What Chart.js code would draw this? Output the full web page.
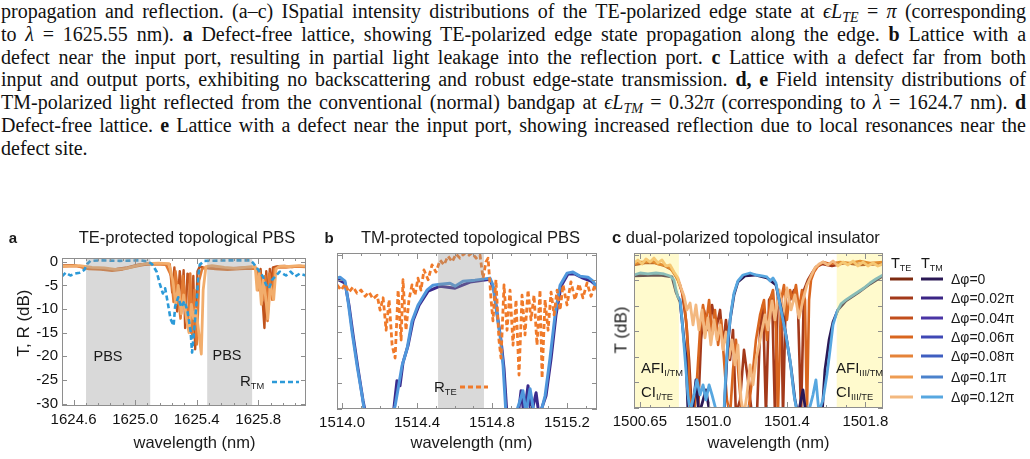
<!DOCTYPE html>
<html><head><meta charset="utf-8">
<script src="https://cdn.jsdelivr.net/npm/chart.js@4.4.1/dist/chart.umd.min.js"></script>
<style>
html,body{margin:0;padding:0;background:#fff;width:1030px;height:459px;overflow:hidden;position:relative}
#cap{position:absolute;left:1px;top:0px;width:1025px;font-family:'Liberation Serif','Times New Roman',serif;font-size:20px;line-height:22.8px;color:#111}
#cap .ln{text-align:justify;text-align-last:justify;white-space:nowrap}
#cap .last{text-align-last:left}
#cap sub{font-size:0.7em;vertical-align:-0.25em;line-height:0}
.t{position:absolute;font-family:'Liberation Sans',Arial,sans-serif;color:#1a1a1a;white-space:nowrap;line-height:1}
.t sub{font-size:0.62em;vertical-align:-0.35em;line-height:0}
canvas{position:absolute;top:245px}
</style></head><body>
<div id="cap">
<div class="ln">propagation and reflection. (a–c) ISpatial intensity distributions of the TE-polarized edge state at <i>ϵL<sub>TE</sub></i> = <i>π</i> (corresponding</div>
<div class="ln">to <i>λ</i> = 1625.55 nm). <b>a</b> Defect-free lattice, showing TE-polarized edge state propagation along the edge. <b>b</b> Lattice with a</div>
<div class="ln">defect near the input port, resulting in partial light leakage into the reflection port. <b>c</b> Lattice with a defect far from both</div>
<div class="ln">input and output ports, exhibiting no backscattering and robust edge-state transmission. <b>d, e</b> Field intensity distributions of</div>
<div class="ln">TM-polarized light reflected from the conventional (normal) bandgap at <i>ϵL<sub>TM</sub></i> = 0.32<i>π</i> (corresponding to <i>λ</i> = 1624.7 nm). <b>d</b></div>
<div class="ln">Defect-free lattice. <b>e</b> Lattice with a defect near the input port, showing increased reflection due to local resonances near the</div>
<div class="ln last">defect site.</div>
</div>
<canvas id="ca" width="320" height="214" style="left:0px"></canvas>
<canvas id="cb" width="300" height="214" style="left:310px"></canvas>
<canvas id="cc" width="430" height="214" style="left:600px"></canvas>
<script>
// ---------------- DATA ----------------
// Panel a: TE-protected topological PBS
const aXTicks = [1624.6, 1625.0, 1625.4, 1625.8];
const aXLabels = ['1624.6', '1625.0', '1625.4', '1625.8'];
const aYTicks = [0, -5, -10, -15, -20, -25, -30];
const aYLabels = ['0', '-5', '-10', '-15', '-20', '-25', '-30'];
const aBands = [[1624.681, 1625.098], [1625.468, 1625.760]];
const aTE1X = [1624.525,1624.60,1624.68,1624.75,1624.82,1624.88,1624.95,1625.02,1625.08,1625.14,1625.225,1625.241,1625.255,1625.273,1625.29,1625.306,1625.315,1625.325,1625.34,1625.352,1625.364,1625.378,1625.39,1625.405,1625.42,1625.45,1625.50,1625.58,1625.66,1625.74,1625.785,1625.80,1625.815,1625.84,1625.852,1625.865,1625.875,1625.885,1625.895,1625.92,1625.97,1626.02,1626.07,1626.11];
const aTE1Y = [-0.8,-0.7,-1.3,-1.4,-1.7,-1.5,-1.2,-0.6,-0.4,-0.4,-0.5,-6.5,-1.2,-10.5,-2.0,-8.0,-1.8,-14.0,-2.5,-3.0,-15.0,-3.0,-18.5,-2.0,-1.0,-1.3,-1.4,-1.5,-1.3,-1.2,-1.3,-3.5,-1.5,-14.0,-2.0,-10.0,-1.5,-6.0,-1.2,-1.0,-0.9,-1.1,-0.9,-1.0];
const aTE2X = [1624.525,1624.62,1624.70,1624.78,1624.85,1624.92,1625.00,1625.06,1625.12,1625.20,1625.235,1625.25,1625.262,1625.28,1625.295,1625.31,1625.33,1625.345,1625.358,1625.372,1625.385,1625.40,1625.415,1625.435,1625.46,1625.52,1625.60,1625.68,1625.75,1625.79,1625.80,1625.81,1625.83,1625.845,1625.86,1625.872,1625.89,1625.905,1625.93,1625.98,1626.04,1626.11];
const aTE2Y = [-1.0,-0.9,-1.5,-1.6,-1.9,-1.6,-1.0,-0.6,-0.5,-0.6,-3.0,-8.5,-2.0,-7.0,-12.0,-3.0,-9.5,-13.0,-2.5,-16.0,-6.0,-17.5,-4.0,-1.5,-1.2,-1.5,-1.7,-1.5,-1.4,-1.5,-6.0,-2.0,-8.0,-3.0,-12.5,-2.5,-8.0,-1.5,-1.2,-1.2,-1.0,-1.1];
const aTE3X = [1624.525,1624.64,1624.72,1624.80,1624.87,1624.94,1625.01,1625.07,1625.15,1625.22,1625.245,1625.265,1625.28,1625.30,1625.315,1625.335,1625.35,1625.365,1625.38,1625.395,1625.41,1625.43,1625.442,1625.46,1625.50,1625.58,1625.66,1625.74,1625.78,1625.792,1625.805,1625.82,1625.832,1625.848,1625.862,1625.878,1625.90,1625.915,1625.94,1626.00,1626.06,1626.11];
const aTE3Y = [-0.9,-0.8,-1.2,-1.3,-1.6,-1.4,-0.8,-0.4,-0.3,-0.4,-4.0,-9.0,-5.0,-11.0,-7.0,-12.5,-15.0,-9.0,-12.0,-10.0,-14.0,-19.5,-6.0,-1.0,-0.8,-1.2,-1.4,-1.1,-1.0,-6.0,-2.5,-9.0,-4.0,-7.5,-12.0,-5.0,-8.0,-1.5,-0.9,-1.0,-0.8,-0.9];
const aRX = [1624.525,1624.55,1624.58,1624.61,1624.64,1624.67,1624.69,1624.71,1624.77,1624.90,1625.03,1625.08,1625.11,1625.14,1625.16,1625.18,1625.195,1625.21,1625.23,1625.25,1625.26,1625.28,1625.30,1625.32,1625.34,1625.36,1625.37,1625.38,1625.40,1625.41,1625.42,1625.45,1625.62,1625.75,1625.77,1625.80,1625.83,1625.85,1625.87,1625.89,1625.91,1625.94,1625.98,1626.01,1626.04,1626.07,1626.11];
const aRY = [-3.1,-2.3,-2.9,-2.5,-2.3,-1.7,-0.4,0.2,0.3,0.2,0.3,0.1,-0.5,-2.1,-4.6,-6.7,-5.6,-8.3,-12.1,-13.5,-9.4,-7.5,-9.6,-8.3,-10.4,-14.6,-19.2,-15.6,-8.3,-3.1,-0.6,0.2,0.3,0.3,-0.4,-1.7,-3.1,-4.8,-5.6,-3.8,-3.1,-2.1,-2.9,-2.1,-3.1,-2.5,-2.9];

// Panel b: TM-protected topological PBS
const bXTicks = [1514.0, 1514.4, 1514.8, 1515.2];
const bXLabels = ['1514.0', '1514.4', '1514.8', '1515.2'];
const bYTicks = [0, -5, -10, -15, -20, -25, -30];
const bBands = [[1514.512, 1514.757]];
const bTM1X = [1513.973,1514.016,1514.037,1514.059,1514.085,1514.112,1514.128,1514.272,1514.293,1514.309,1514.325,1514.352,1514.379,1514.411,1514.459,1514.523,1514.603,1514.683,1514.789,1514.811,1514.832,1514.848,1514.864,1514.880,1514.939,1514.955,1514.971,1514.992,1515.008,1515.035,1515.051,1515.088,1515.115,1515.141,1515.168,1515.205,1515.243,1515.285,1515.328,1515.360];
const bTM1Y = [-4.78,-5.56,-9.86,-15.71,-22.16,-28.41,-31.34,-31.34,-24.50,-25.48,-20.99,-17.67,-12.79,-9.86,-7.12,-6.14,-6.54,-5.36,-4.78,-6.93,-12.79,-16.69,-22.16,-31.34,-31.34,-26.46,-31.34,-25.48,-31.34,-26.85,-31.34,-27.43,-20.21,-11.81,-6.14,-3.80,-3.80,-4.58,-5.17,-6.14];
const bTM2X = [1513.973,1513.989,1514.016,1514.032,1514.053,1514.080,1514.107,1514.123,1514.267,1514.283,1514.299,1514.320,1514.347,1514.373,1514.405,1514.453,1514.485,1514.523,1514.576,1514.603,1514.645,1514.709,1514.789,1514.805,1514.827,1514.843,1514.859,1514.875,1514.923,1514.949,1514.965,1514.981,1515.003,1515.024,1515.056,1515.083,1515.109,1515.136,1515.163,1515.200,1515.232,1515.269,1515.312,1515.339,1515.360];
const bTM2Y = [-4.58,-4.39,-5.17,-9.07,-14.94,-21.57,-27.43,-31.34,-31.34,-29.39,-26.07,-21.57,-18.25,-12.98,-9.86,-6.93,-5.95,-5.75,-5.56,-6.14,-5.17,-4.97,-4.58,-5.95,-11.81,-15.71,-21.57,-31.34,-31.34,-28.41,-26.46,-30.75,-26.07,-30.75,-31.34,-27.43,-20.21,-11.81,-5.95,-3.61,-3.41,-4.19,-4.39,-5.17,-6.54];
const bRX = [1513.973,1513.995,1514.016,1514.037,1514.059,1514.080,1514.101,1514.123,1514.144,1514.165,1514.187,1514.203,1514.219,1514.235,1514.251,1514.267,1514.283,1514.299,1514.315,1514.325,1514.341,1514.357,1514.373,1514.389,1514.405,1514.421,1514.437,1514.459,1514.480,1514.501,1514.523,1514.544,1514.565,1514.587,1514.608,1514.629,1514.651,1514.672,1514.693,1514.715,1514.736,1514.752,1514.768,1514.779,1514.795,1514.805,1514.821,1514.837,1514.848,1514.864,1514.880,1514.896,1514.912,1514.928,1514.944,1514.960,1514.976,1514.992,1515.008,1515.024,1515.040,1515.056,1515.067,1515.083,1515.099,1515.115,1515.131,1515.147,1515.163,1515.179,1515.200,1515.221,1515.243,1515.264,1515.285,1515.307,1515.328,1515.349,1515.360];
const bRY = [-5.9,-6.9,-5.7,-7.3,-6.3,-7.5,-6.9,-8.1,-7.3,-8.6,-7.9,-10.8,-8.4,-14.7,-8.8,-17.6,-20.1,-6.9,-16.6,-4.9,-14.7,-8.8,-5.9,-7.9,-4.6,-6.9,-3.0,-4.9,-2.0,-3.4,-1.1,-2.0,-0.3,-1.4,0.1,-0.7,0.2,-0.3,0.3,-0.7,-0.1,-4.6,-1.4,-0.7,-8.8,-12.9,-4.9,-16.6,-20.1,-5.9,-14.7,-6.9,-17.6,-8.8,-23.4,-7.9,-15.6,-6.9,-12.7,-7.9,-17.6,-6.9,-24.0,-8.8,-14.7,-7.3,-11.7,-6.9,-10.8,-5.9,-9.8,-5.3,-8.8,-5.7,-8.4,-5.5,-8.1,-5.9,-6.9];

// Panel c: dual-polarized topological insulator
const cXTicks = [1500.65, 1501.0, 1501.4, 1501.8];
const cXLabels = ['1500.65', '1501.0', '1501.4', '1501.8'];
const cYTicks = [0, -5, -10, -15, -20, -25, -30];
const cBands = [[1500.620, 1500.849], [1501.654, 1501.890]];
const cPhaseLabels = ['Δφ=0', 'Δφ=0.02π', 'Δφ=0.04π', 'Δφ=0.06π', 'Δφ=0.08π', 'Δφ=0.1π', 'Δφ=0.12π'];
const cTEColors = ['#7d2a10', '#a3391a', '#c24e1c', '#d9661f', '#e58339', '#ee9c52', '#f3b87f'];
const cTMColors = ['#2a1855', '#3b2585', '#4a35a5', '#3f48b5', '#3f5ec0', '#4b82cc', '#57a7e0'];
const cTE1X = [1500.620,1500.676,1500.727,1500.778,1500.814,1500.844,1500.865,1500.885,1500.901,1500.916,1500.946,1500.962,1500.977,1500.997,1501.018,1501.038,1501.059,1501.074,1501.089,1501.110,1501.125,1501.140,1501.161,1501.181,1501.201,1501.222,1501.247,1501.263,1501.278,1501.293,1501.309,1501.324,1501.339,1501.354,1501.370,1501.380,1501.395,1501.416,1501.436,1501.456,1501.472,1501.487,1501.507,1501.528,1501.548,1501.579,1501.630,1501.696,1501.773,1501.890];
const cTE1Y = [-2.04,-1.65,-1.65,-2.24,-3.02,-4.97,-7.32,-12.79,-20.60,-31.34,-31.34,-16.69,-10.83,-14.74,-9.86,-14.74,-10.83,-17.67,-12.79,-20.60,-14.74,-31.34,-28.41,-18.64,-24.50,-31.34,-31.34,-14.74,-9.86,-31.34,-8.88,-7.90,-31.34,-6.93,-8.88,-31.34,-6.93,-8.88,-6.93,-9.86,-31.34,-6.93,-4.97,-3.61,-2.43,-1.85,-2.24,-1.65,-2.04,-1.85];
const cTE2X = [1500.620,1500.651,1500.681,1500.712,1500.742,1500.773,1500.804,1500.834,1500.855,1500.875,1500.890,1500.901,1500.911,1500.926,1500.941,1500.957,1500.972,1500.987,1501.003,1501.018,1501.033,1501.049,1501.064,1501.079,1501.094,1501.110,1501.125,1501.140,1501.155,1501.171,1501.201,1501.222,1501.242,1501.263,1501.283,1501.298,1501.314,1501.329,1501.344,1501.354,1501.370,1501.385,1501.400,1501.416,1501.431,1501.446,1501.462,1501.477,1501.492,1501.502,1501.513,1501.523,1501.538,1501.558,1501.584,1501.620,1501.671,1501.722,1501.773,1501.824,1501.890];
const cTE2Y = [-1.85,-1.46,-1.46,-1.26,-1.85,-2.04,-2.63,-4.19,-5.95,-8.88,-14.74,-24.50,-31.34,-31.34,-24.50,-14.74,-9.86,-13.76,-8.88,-15.71,-10.83,-17.67,-12.79,-20.60,-28.41,-31.34,-22.55,-16.69,-24.50,-31.34,-31.34,-24.50,-16.69,-11.81,-8.88,-16.69,-8.88,-6.93,-14.74,-31.34,-8.88,-5.95,-12.79,-6.93,-8.88,-5.95,-10.83,-6.93,-8.88,-31.34,-8.88,-4.97,-3.41,-2.24,-1.46,-1.85,-1.46,-1.65,-1.26,-1.65,-1.46];
const cTE3X = [1500.620,1500.640,1500.661,1500.681,1500.702,1500.722,1500.742,1500.763,1500.783,1500.804,1500.824,1500.844,1500.860,1500.875,1500.890,1500.906,1500.921,1500.936,1500.951,1500.967,1500.982,1500.997,1501.012,1501.028,1501.043,1501.059,1501.074,1501.089,1501.104,1501.120,1501.135,1501.150,1501.166,1501.181,1501.196,1501.212,1501.227,1501.242,1501.258,1501.273,1501.288,1501.303,1501.324,1501.339,1501.360,1501.380,1501.400,1501.421,1501.441,1501.462,1501.482,1501.502,1501.523,1501.543,1501.564,1501.584,1501.609,1501.635,1501.660,1501.686,1501.711,1501.737,1501.762,1501.788,1501.813,1501.839,1501.864,1501.890];
const cTE3Y = [-1.65,-1.07,-1.85,-0.87,-1.46,-0.68,-1.65,-1.07,-2.24,-2.04,-3.41,-4.58,-6.54,-8.10,-10.83,-9.47,-13.76,-9.86,-14.74,-10.83,-16.30,-12.39,-17.67,-12.79,-16.69,-13.76,-18.64,-15.13,-20.21,-16.69,-21.57,-17.67,-28.41,-31.34,-27.43,-21.57,-25.48,-20.60,-17.67,-14.74,-11.81,-14.74,-9.07,-12.79,-6.93,-11.81,-6.54,-10.83,-7.90,-12.39,-8.88,-5.95,-4.19,-2.63,-1.85,-1.46,-2.04,-1.26,-2.24,-1.46,-2.04,-1.26,-2.24,-1.46,-2.24,-1.65,-2.24,-1.85];
const cTM1X = [1500.620,1500.753,1500.814,1500.834,1500.855,1500.875,1500.885,1500.895,1500.916,1500.936,1500.951,1500.987,1501.008,1501.079,1501.094,1501.110,1501.130,1501.150,1501.186,1501.237,1501.298,1501.344,1501.370,1501.395,1501.421,1501.441,1501.457,1501.482,1501.497,1501.579,1501.594,1501.615,1501.635,1501.660,1501.701,1501.762,1501.824,1501.890];
const cTM1Y = [-4.19,-4.00,-4.39,-7.32,-9.27,-16.69,-20.01,-30.36,-31.34,-24.50,-31.34,-26.46,-31.34,-31.34,-20.21,-12.79,-7.90,-5.36,-4.19,-4.00,-4.58,-5.95,-10.44,-15.71,-22.16,-28.41,-31.34,-26.46,-31.34,-31.34,-22.55,-16.69,-13.18,-10.83,-9.07,-7.51,-5.75,-4.19];
const cTM2X = [1500.620,1500.651,1500.691,1500.732,1500.773,1500.804,1500.824,1500.834,1500.844,1500.855,1500.865,1500.875,1500.885,1500.895,1500.906,1500.926,1500.941,1500.957,1500.972,1500.987,1501.003,1501.018,1501.038,1501.059,1501.079,1501.089,1501.099,1501.115,1501.130,1501.150,1501.176,1501.212,1501.242,1501.273,1501.298,1501.314,1501.329,1501.344,1501.365,1501.390,1501.416,1501.436,1501.451,1501.467,1501.507,1501.533,1501.548,1501.563,1501.584,1501.604,1501.620,1501.635,1501.655,1501.676,1501.701,1501.731,1501.762,1501.793,1501.824,1501.854,1501.890];
const cTM2Y = [-4.00,-3.61,-3.80,-3.61,-3.80,-4.19,-4.97,-6.93,-8.29,-8.88,-12.79,-17.67,-22.55,-27.43,-30.75,-27.43,-24.50,-27.43,-25.48,-28.41,-25.48,-27.43,-30.36,-31.34,-30.75,-22.55,-16.69,-11.22,-7.51,-5.17,-4.00,-3.61,-4.00,-4.19,-4.39,-5.17,-4.58,-5.56,-9.86,-14.74,-20.60,-27.43,-30.75,-31.34,-31.34,-27.43,-24.50,-30.75,-28.41,-23.53,-18.64,-13.76,-11.22,-9.66,-8.88,-8.10,-7.32,-6.54,-5.56,-4.78,-4.00];

// ---------------- STYLE / HELPERS ----------------
const FONT = "'Liberation Sans', Arial, Helvetica, sans-serif";
const TICKFONT = "'Liberation Sans Narrow', 'Arial Narrow', 'Liberation Sans', Arial, sans-serif";
Chart.defaults.font.family = FONT;
const INK = '#111';

function pts(xs, ys) {
  const n = Math.min(xs.length, ys.length), out = [];
  for (let i = 0; i < n; i++) out.push({x: xs[i], y: ys[i]});
  return out;
}
function line(xs, ys, color, w, order, dash) {
  return {data: pts(xs, ys), borderColor: color, borderWidth: w, order: order, borderDash: dash || [],
    pointRadius: 0, fill: false, tension: 0, borderJoinStyle: 'round', borderCapStyle: 'butt'};
}
function axisX(min, max, ticks, labels, h) {
  return {type: 'linear', min, max, grid: {display: false, drawTicks: false}, border: {display: false},
    afterBuildTicks: s => { s.ticks = ticks.map(v => ({value: v})); },
    ticks: {autoSkip: false, maxRotation: 0, minRotation: 0, padding: 5, color: INK,
      font: {size: 15, family: TICKFONT}, callback: (v, i) => labels[i]},
    afterFit: s => { s.height = h; }};
}
function axisY(min, max, ticks, labels, w) {
  return {type: 'linear', min, max, grid: {display: false, drawTicks: false}, border: {display: false},
    afterBuildTicks: s => { s.ticks = ticks.map(v => ({value: v})); },
    ticks: {display: !!labels, padding: 4, color: INK, font: {size: 15, family: TICKFONT},
      callback: (v, i) => labels ? labels[i] : ''},
    afterFit: s => { s.width = w; }};
}

const bandPlugin = {
  id: 'bands',
  afterDatasetsDraw(chart, args, o) {
    if (!o || !o.ranges) return;
    const {ctx, chartArea: a, scales: {x}} = chart;
    ctx.save();
    ctx.fillStyle = o.color;
    o.ranges.forEach(r => {
      const x0 = Math.max(a.left, x.getPixelForValue(r[0]));
      const x1 = Math.min(a.right, x.getPixelForValue(r[1]));
      ctx.fillRect(x0, a.top, x1 - x0, a.bottom - a.top);
    });
    ctx.restore();
  }
};
const framePlugin = {
  id: 'frame',
  afterDraw(chart, args, o) {
    const {ctx, chartArea: a, scales: {x, y}} = chart;
    ctx.save();
    ctx.strokeStyle = '#8e8e8e'; ctx.lineWidth = 1;
    ctx.strokeRect(Math.round(a.left) + 0.5, Math.round(a.top) + 0.5, Math.round(a.right - a.left) - 1, Math.round(a.bottom - a.top) - 1);
    ctx.beginPath();
    const ms = (o && o.minor) || 0.1, org = (o && o.origin) || 0;
    const i0 = Math.ceil((x.min - org) / ms - 1e-6), i1 = Math.floor((x.max - org) / ms + 1e-6);
    for (let i = i0; i <= i1; i++) {
      const px = Math.round(x.getPixelForValue(org + i * ms)) + 0.5;
      ctx.moveTo(px, a.bottom); ctx.lineTo(px, a.bottom - 3);
      ctx.moveTo(px, a.top); ctx.lineTo(px, a.top + 3);
    }
    x.ticks.forEach(t => {
      const px = Math.round(x.getPixelForValue(t.value)) + 0.5;
      ctx.moveTo(px, a.bottom); ctx.lineTo(px, a.bottom - 6);
      ctx.moveTo(px, a.top); ctx.lineTo(px, a.top + 6);
    });
    y.ticks.forEach(t => {
      const py = Math.round(y.getPixelForValue(t.value)) + 0.5;
      ctx.moveTo(a.left, py); ctx.lineTo(a.left + 5, py);
      ctx.moveTo(a.right, py); ctx.lineTo(a.right - 5, py);
    });
    ctx.stroke();
    ctx.restore();
  }
};
const samplePlugin = {
  id: 'samples',
  afterDraw(chart, args, o) {
    if (!o || !o.items) return;
    const ctx = chart.ctx, ox = chart.canvas.offsetLeft, oy = chart.canvas.offsetTop;
    ctx.save();
    o.items.forEach(it => {
      ctx.strokeStyle = it.color; ctx.lineWidth = it.w; ctx.setLineDash(it.dash || []);
      ctx.lineCap = 'butt';
      ctx.beginPath(); ctx.moveTo(it.x0 - ox, it.y - oy); ctx.lineTo(it.x1 - ox, it.y - oy); ctx.stroke();
    });
    ctx.restore();
  }
};
function baseOpts(pad, x, y, extra) {
  return {responsive: false, animation: false, events: [],
    layout: {padding: pad},
    plugins: Object.assign({legend: {display: false}, tooltip: {enabled: false}, title: {display: false}}, extra),
    scales: {x, y}};
}

// ---------------- CHART a ----------------
const aR = {color: '#2c9ad8', w: 2.6, dash: [5, 3]};
new Chart(document.getElementById('ca'), {
  type: 'line',
  data: {datasets: [
    line(aTE1X, aTE1Y, '#c0531c', 2.4, 4),
    line(aTE2X, aTE2Y, '#e27b34', 2.6, 3),
    line(aTE3X, aTE3Y, '#f2ad6c', 2.8, 2),
    line(aRX, aRY, aR.color, aR.w, 1, aR.dash)
  ]},
  options: baseOpts({left: 0, right: 14, top: 11, bottom: 0},
    axisX(1624.525, 1626.11, aXTicks, aXLabels, 53),
    axisY(-30.5, 0.8, aYTicks, aYLabels, 62),
    {bands: {ranges: aBands, color: 'rgba(150,150,150,0.36)'}, frame: {minor: 0.08, origin: 1624.6},
     samples: {items: [{x0: 272, x1: 299, y: 382, color: aR.color, w: aR.w, dash: aR.dash}]}}),
  plugins: [bandPlugin, framePlugin, samplePlugin]
});

// ---------------- CHART b ----------------
const bR = {color: '#f07a2a', w: 2.8, dash: [5, 3]};
new Chart(document.getElementById('cb'), {
  type: 'line',
  data: {datasets: [
    line(bTM1X, bTM1Y, '#3a2a8c', 3, 3),
    line(bTM2X, bTM2Y, '#4f97dc', 3, 2),
    line(bRX, bRY, bR.color, bR.w, 1, bR.dash)
  ]},
  options: baseOpts({left: 0, right: 13, top: 8, bottom: 0},
    axisX(1513.973, 1515.36, bXTicks, bXLabels, 50),
    axisY(-30, 0.3, bYTicks, null, 27),
    {bands: {ranges: bBands, color: 'rgba(150,150,150,0.36)'}, frame: {minor: 0.1, origin: 1514.0},
     samples: {items: [{x0: 460, x1: 488, y: 387, color: bR.color, w: bR.w, dash: bR.dash}]}}),
  plugins: [bandPlugin, framePlugin, samplePlugin]
});

// ---------------- CHART c ----------------
const legendRowsY = [279, 298, 318, 337, 356, 377, 397];
const legendItems = [];
legendRowsY.forEach((yy, i) => {
  legendItems.push({x0: 890, x1: 913, y: yy, color: cTEColors[i], w: 3});
  legendItems.push({x0: 921, x1: 943, y: yy, color: cTMColors[i], w: 3});
});
new Chart(document.getElementById('cc'), {
  type: 'line',
  data: {datasets: [
    line(cTE1X, cTE1Y, cTEColors[1], 2.6, 6),
    line(cTE2X, cTE2Y, cTEColors[3], 2.6, 5),
    line(cTE3X, cTE3Y, cTEColors[6], 2.8, 4),
    line(cTM1X, cTM1Y, cTMColors[0], 2.8, 3),
    line(cTM2X, cTM2Y, cTMColors[6], 2.8, 2)
  ]},
  options: baseOpts({left: 0, right: 147, top: 8, bottom: 0},
    axisX(1500.62, 1501.89, cXTicks, cXLabels, 51),
    axisY(-30, 0.3, cYTicks, null, 34),
    {bands: {ranges: cBands, color: 'rgba(255,240,90,0.3)'}, frame: {minor: 0.1, origin: 1501.0},
     samples: {items: legendItems}}),
  plugins: [bandPlugin, framePlugin, samplePlugin]
});

// ---------------- TEXT ----------------
const texts = [
  {h: '<b>a</b>', x: 13, y: 237, s: 15, a: 'c'},
  {h: 'TE-protected topological PBS', x: 187, y: 237, s: 16.5, a: 'c'},
  {h: '<b>b</b>', x: 329, y: 237, s: 15, a: 'c'},
  {h: 'TM-protected topological PBS', x: 470.5, y: 237, s: 16.5, a: 'c'},
  {h: '<b>c</b> dual-polarized topological insulator', x: 612, y: 237, s: 16.5, a: 'l'},
  {h: 'wavelength (nm)', x: 194.5, y: 442, s: 16.5, a: 'c'},
  {h: 'wavelength (nm)', x: 471.5, y: 442, s: 16.5, a: 'c'},
  {h: 'wavelength (nm)', x: 768.5, y: 442, s: 16.5, a: 'c'},
  {h: 'T, R (dB)', x: 22.5, y: 323, s: 17, a: 'c', r: true},
  {h: 'T (dB)', x: 621, y: 330, s: 17, a: 'c', r: true},
  {h: 'PBS', x: 108, y: 356, s: 14.5, a: 'c'},
  {h: 'PBS', x: 227, y: 355, s: 14.5, a: 'c'},
  {h: 'R<sub>TM</sub>', x: 240, y: 380, s: 15, a: 'l'},
  {h: 'R<sub>TE</sub>', x: 434, y: 386, s: 15, a: 'l'},
  {h: 'AFI<sub>I/TM</sub>', x: 641, y: 367, s: 15, a: 'l'},
  {h: 'CI<sub>I/TE</sub>', x: 641, y: 391, s: 15, a: 'l'},
  {h: 'AFI<sub>III/TM</sub>', x: 836, y: 367, s: 15, a: 'l'},
  {h: 'CI<sub>III/TE</sub>', x: 836, y: 391, s: 15, a: 'l'},
  {h: 'T<sub>TE</sub>', x: 891, y: 263, s: 14.5, a: 'l'},
  {h: 'T<sub>TM</sub>', x: 921, y: 263, s: 14.5, a: 'l'}
];
cPhaseLabels.forEach((lab, i) => texts.push({h: lab, x: 951, y: legendRowsY[i], s: 14, a: 'l'}));
texts.forEach(t => {
  const d = document.createElement('div');
  d.className = 't';
  d.innerHTML = t.h;
  d.style.left = t.x + 'px';
  d.style.top = t.y + 'px';
  d.style.fontSize = t.s + 'px';
  let tr = (t.a === 'c' ? 'translate(-50%,-50%)' : 'translate(0,-50%)');
  if (t.r) tr += ' rotate(-90deg)';
  d.style.transform = tr;
  document.body.appendChild(d);
});
</script>
</body></html>
